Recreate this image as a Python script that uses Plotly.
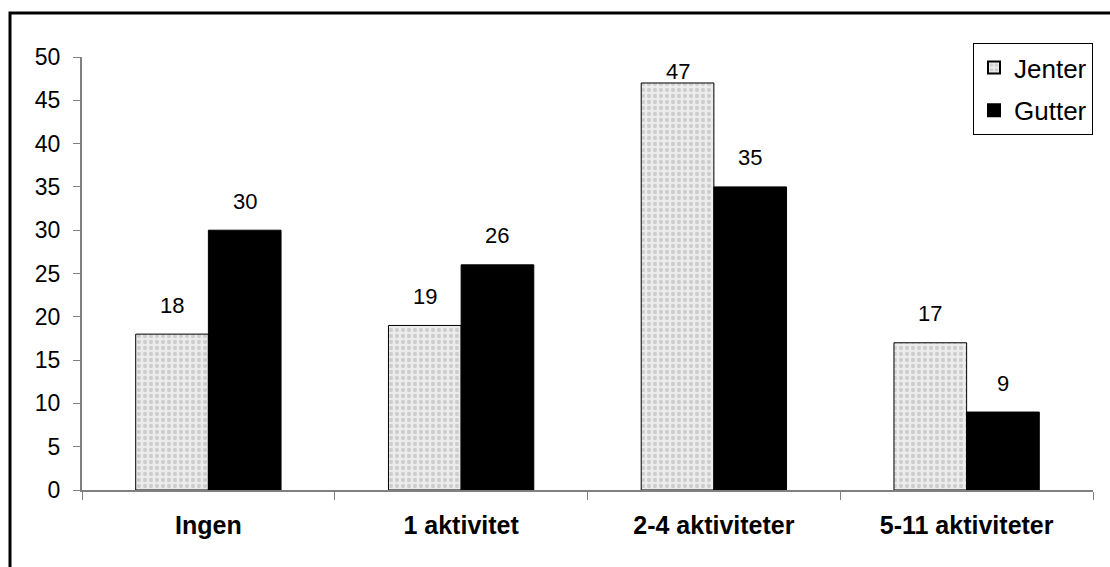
import plotly.graph_objects as go

categories = ["Ingen", "1 aktivitet", "2-4 aktiviteter", "5-11 aktiviteter"]
jenter = [18, 19, 47, 17]
gutter = [30, 26, 35, 9]
y_ticks = [0, 5, 10, 15, 20, 25, 30, 35, 40, 45, 50]

FONT = "Liberation Sans, Arial, sans-serif"
W, H = 1110, 567
L, R, T, B = 82, 17, 57, 77
pw, ph = W - L - R, H - T - B
Y_MAX = 50
BARGAP = 0.425

fig = go.Figure()
fig.add_trace(go.Bar(
    name="Jenter", x=categories, y=jenter, legendgroup="j",
    marker=dict(
        color="#e4e4e4",
        line=dict(color="black", width=1),
        pattern=dict(shape=".", size=6, solidity=0.4,
                     fgcolor="#b0b0b0", bgcolor="#ececec"),
    ),
))
fig.add_trace(go.Bar(
    name="Gutter", x=categories, y=gutter, legendgroup="g",
    marker=dict(color="black", line=dict(color="black", width=1)),
))

# value labels above each bar; labels near the top stay inside the plot area
bar_px = (1 - BARGAP) * pw / len(categories) / 2
for series, side in ((jenter, -1), (gutter, 1)):
    for cat, v in zip(categories, series):
        room = (Y_MAX - v) * ph / Y_MAX
        shift = min(29, room - 14)
        fig.add_annotation(
            x=cat, y=v, xref="x", yref="y", text=str(v),
            showarrow=False, xanchor="center", yanchor="middle",
            xshift=side * bar_px / 2, yshift=shift,
            font=dict(size=22, family=FONT, color="black"),
        )

# outer frame (top and left edges visible)
x0 = (10 - L) / pw
y1 = (H - B - 13) / ph
fig.add_shape(type="rect", xref="paper", yref="paper",
              x0=x0, x1=1.2, y0=-0.5, y1=y1,
              line=dict(color="black", width=3), layer="below")

fig.update_layout(
    width=W, height=H,
    margin=dict(l=L, r=R, t=T, b=B, pad=0),
    paper_bgcolor="white", plot_bgcolor="white",
    barmode="group", bargap=BARGAP, bargroupgap=0,
    font=dict(family=FONT, color="black", size=22),
    showlegend=True,
    legend=dict(
        x=1, xanchor="right", y=1 + 14 / ph, yanchor="top",
        bgcolor="white", bordercolor="black", borderwidth=1,
        font=dict(size=26, family=FONT, color="black"),
        itemsizing="constant", tracegroupgap=6,
    ),
)
fig.update_yaxes(
    range=[0, Y_MAX], tickvals=y_ticks, showgrid=False, zeroline=False,
    showline=True, linecolor="#808080", linewidth=2,
    ticks="outside", ticklen=7, tickcolor="#808080", tickwidth=1,
    ticklabelstandoff=8,
    tickfont=dict(size=23, family=FONT, color="black"),
)
fig.update_xaxes(
    showgrid=False, showline=True, linecolor="#808080", linewidth=2,
    ticks="outside", tickson="boundaries", ticklen=8,
    tickcolor="#808080", tickwidth=1, ticklabelstandoff=12,
    tickfont=dict(size=25, family=FONT, color="black", weight="bold"),
)

fig.write_html("out.html")
